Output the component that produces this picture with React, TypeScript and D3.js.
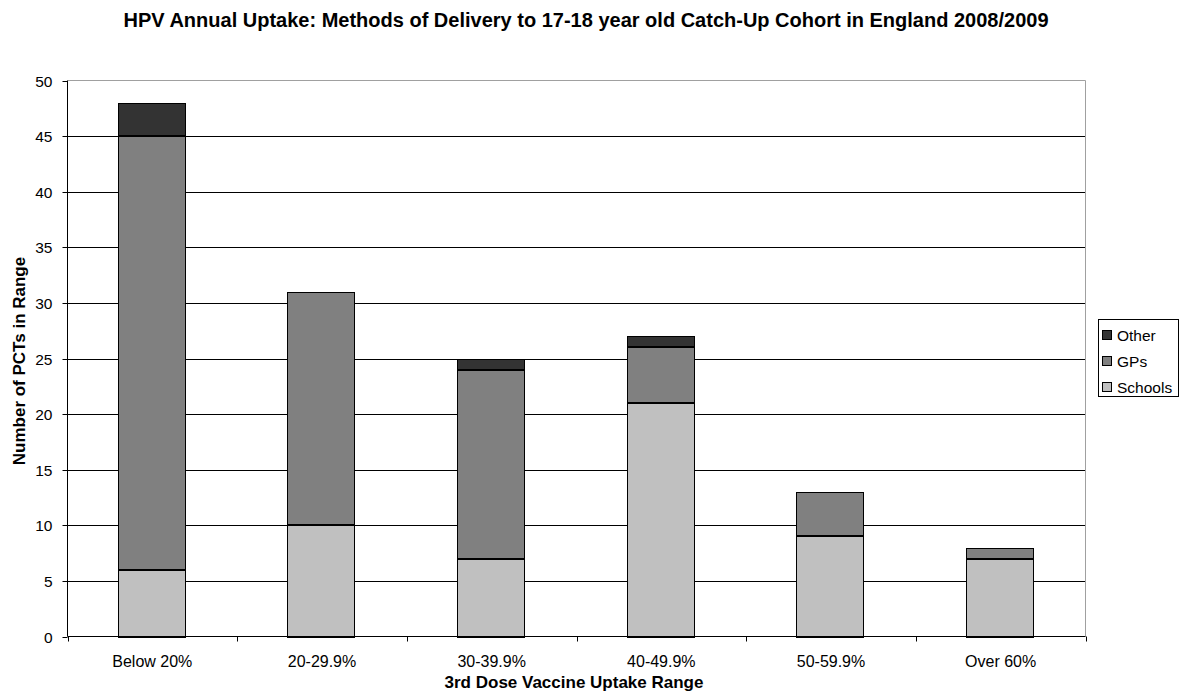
import React, { useEffect, useRef } from 'react';
import * as d3 from 'd3';

const categories = ['Below 20%', '20-29.9%', '30-39.9%', '40-49.9%', '50-59.9%', 'Over 60%'];
const schools = [6, 10, 7, 21, 9, 7];
const gps = [39, 21, 17, 5, 4, 1];
const other = [3, 0, 1, 1, 0, 0];
const seriesNames = ['Schools', 'GPs', 'Other'];
const seriesColors = ['#c0c0c0', '#808080', '#333333'];
const yTicks = [0, 5, 10, 15, 20, 25, 30, 35, 40, 45, 50];

const App: React.FC = () => {
  const svgRef = useRef<SVGSVGElement>(null);

  useEffect(() => {
    if (!svgRef.current) return;
    const svg = d3.select(svgRef.current);
    svg.selectAll('*').remove();

    const width = 1187;
    const height = 700;
    const left = 67.5;
    const right = 1085.5;
    const top = 80.5;
    const bottom = 636.5;
    const font = 'Liberation Sans, Arial, sans-serif';

    const x = d3.scaleBand().domain(categories).range([left, right]).paddingInner(0).paddingOuter(0);
    const y = d3.scaleLinear().domain([0, 50]).range([bottom, top]);

    svg.append('rect').attr('width', width).attr('height', height).attr('fill', '#fff');

    // gridlines
    svg.append('g')
      .selectAll('line')
      .data(yTicks.filter(t => t > 0 && t < 50))
      .enter()
      .append('line')
      .attr('x1', left).attr('x2', right)
      .attr('y1', d => Math.round(y(d)) + 0.5).attr('y2', d => Math.round(y(d)) + 0.5)
      .attr('stroke', '#000').attr('stroke-width', 1);

    // plot border
    svg.append('path')
      .attr('d', `M${left},${top}H${right}V${bottom}`)
      .attr('fill', 'none').attr('stroke', '#a0a0a0');

    // stacked bars (upper segments stop 1px short so the joins read as a 2px line)
    const rows = categories.map((c, i) => ({ cat: c, Schools: schools[i], GPs: gps[i], Other: other[i] }));
    const stacked = d3.stack<any>().keys(seriesNames)(rows);
    const barW = x.bandwidth() * 0.395;
    stacked.forEach((layer, li) => {
      svg.append('g')
        .selectAll('rect')
        .data(layer.filter(d => d[1] - d[0] > 0))
        .enter()
        .append('rect')
        .attr('x', d => Math.round(x(d.data.cat)! + x.bandwidth() / 2 - barW / 2) - 0.5)
        .attr('width', Math.round(barW))
        .attr('y', d => Math.round(y(d[1])) + 0.5)
        .attr('height', d => Math.round(y(d[0])) - Math.round(y(d[1])) - (d[0] > 0 ? 1 : 0))
        .attr('fill', seriesColors[li])
        .attr('stroke', '#000')
        .attr('stroke-width', 1);
    });

    // axes
    const yAxis = svg.append('g');
    yAxis.append('line').attr('x1', left).attr('x2', left).attr('y1', top).attr('y2', bottom).attr('stroke', '#000');
    yTicks.forEach(t => {
      const ty = Math.round(y(t)) + 0.5;
      yAxis.append('line').attr('x1', left - 5).attr('x2', left).attr('y1', ty).attr('y2', ty).attr('stroke', '#000');
      yAxis.append('text').attr('x', left - 15).attr('y', ty + 5.5)
        .attr('text-anchor', 'end').attr('font-family', font).attr('font-size', 15.5).attr('fill', '#000').text(t);
    });

    const xAxis = svg.append('g');
    xAxis.append('line').attr('x1', left).attr('x2', right).attr('y1', bottom).attr('y2', bottom).attr('stroke', '#000');
    d3.range(categories.length + 1).forEach(i => {
      const tx = Math.round(left + i * x.step()) + 0.5;
      xAxis.append('line').attr('x1', tx).attr('x2', tx).attr('y1', bottom).attr('y2', bottom + 5).attr('stroke', '#000');
    });
    categories.forEach(c => {
      xAxis.append('text').attr('x', x(c)! + x.bandwidth() / 2).attr('y', 667)
        .attr('text-anchor', 'middle').attr('font-family', font).attr('font-size', 16).attr('fill', '#000').text(c);
    });

    // titles
    svg.append('text').attr('x', 586).attr('y', 27).attr('text-anchor', 'middle')
      .attr('font-family', font).attr('font-weight', 'bold').attr('font-size', 20).attr('fill', '#000')
      .text('HPV Annual Uptake: Methods of Delivery to 17-18 year old Catch-Up Cohort in England 2008/2009');
    svg.append('text').attr('x', 574).attr('y', 688).attr('text-anchor', 'middle')
      .attr('font-family', font).attr('font-weight', 'bold').attr('font-size', 17).attr('fill', '#000')
      .text('3rd Dose Vaccine Uptake Range');
    svg.append('text').attr('transform', `translate(25,361) rotate(-90)`).attr('text-anchor', 'middle')
      .attr('font-family', font).attr('font-weight', 'bold').attr('font-size', 17).attr('fill', '#000')
      .text('Number of PCTs in Range');

    // legend
    const lg = svg.append('g');
    lg.append('rect').attr('x', 1098.5).attr('y', 319.5).attr('width', 80).attr('height', 77)
      .attr('fill', '#fff').attr('stroke', '#000');
    const legendItems = [...seriesNames].reverse();
    legendItems.forEach((name, i) => {
      const ly = 335 + i * 26;
      const ci = seriesNames.indexOf(name);
      lg.append('rect').attr('x', 1102.5).attr('y', ly - 4.5).attr('width', 9).attr('height', 9)
        .attr('fill', seriesColors[ci]).attr('stroke', '#000');
      lg.append('text').attr('x', 1117).attr('y', ly + 6)
        .attr('font-family', font).attr('font-size', 15.5).attr('fill', '#000').text(name);
    });
  }, []);

  return <svg ref={svgRef} width={1187} height={700} style={{ display: 'block', margin: -8 }} />;
};

export default App;
